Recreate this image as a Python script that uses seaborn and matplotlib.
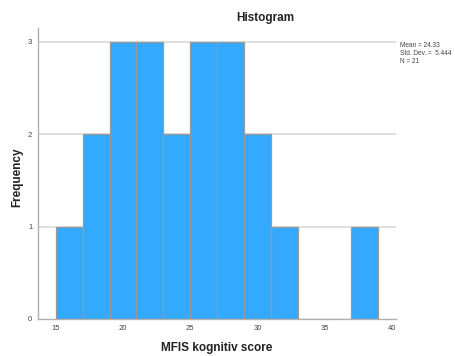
import numpy as np
import pandas as pd
import seaborn as sns
import matplotlib
matplotlib.use("Agg")
import matplotlib.pyplot as plt

# MFIS cognitive subscale scores for the 21 participants
scores = [16, 17, 18, 19, 20, 20, 21, 22, 22, 23, 24,
          25, 26, 26, 27, 28, 28, 29, 30, 32, 38]
bin_edges = [15, 17, 19, 21, 23, 25, 27, 29, 31, 33, 35, 37, 39]
x_ticks = [15, 20, 25, 30, 35, 40]
y_ticks = [0, 1, 2, 3]

df = pd.DataFrame({"score": scores})

sns.set_theme(style="white")
plt.rcParams["font.family"] = ["Liberation Sans", "DejaVu Sans"]

fig = plt.figure(figsize=(4.56, 3.56), dpi=100)
ax = fig.add_axes([0.083, 0.104, 0.785, 0.817])

for y in y_ticks[1:]:
    ax.axhline(y, color="#dcdcdc", lw=1.3, zorder=0)

sns.histplot(data=df, x="score", bins=bin_edges, stat="count",
             color="#33aaff", alpha=1.0, edgecolor="#9a9a9a",
             linewidth=0.9, ax=ax, zorder=2)

ax.set_xlim(13.66, 40.3)
ax.set_ylim(0, 3.15)
ax.set_xticks(x_ticks)
ax.set_yticks(y_ticks)
ax.tick_params(axis="both", length=0, labelsize=5.5, colors="#444444", pad=4)
ax.set_xlabel("")
ax.set_ylabel("")

for side in ("top", "right"):
    ax.spines[side].set_visible(False)
for side in ("left", "bottom"):
    ax.spines[side].set_color("#b0b0b0")
    ax.spines[side].set_linewidth(1.0)

fig.text(0.581, 0.949, "Histogram", ha="center", va="center",
         fontsize=8.5, fontweight="bold", color="#222222")
fig.text(0.476, 0.022, "MFIS kognitiv score", ha="center", va="center",
         fontsize=8.5, fontweight="bold", color="#222222")
fig.text(0.037, 0.503, "Frequency", ha="center", va="center", rotation=90,
         fontsize=8.5, fontweight="bold", color="#222222")

arr = np.array(scores, dtype=float)
stats = (f"Mean = {arr.mean():.2f}\n"
         f"Std. Dev. =  {arr.std(ddof=1):.3f}\n"
         f"N = {len(arr)}")
fig.text(0.877, 0.882, stats, ha="left", va="top", fontsize=4.7,
         color="#444444", linespacing=1.15)

fig.savefig("out.png", dpi=100)
